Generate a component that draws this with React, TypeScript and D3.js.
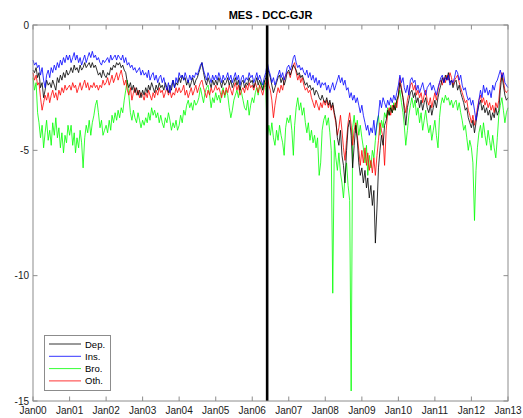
import React from "react";
import * as d3 from "d3";

// semi-monthly estimates, Jan 2000 .. Jan 2013 (313 points each)
const dep = [
-1.8,-1.9,-1.7,-2.1,-1.9,-2.5,-2.3,-2.9,-2.6,-2.2,-2.4,-2.3,-2.5,-2.2,-2.4,-2.6,-2.1,-2.3,-2.0,-2.2,-1.9,-2.1,-1.8,-2.0,
-1.9,-1.7,-1.9,-1.6,-1.8,-1.7,-1.9,-1.6,-1.8,-1.7,-1.5,-1.7,-1.6,-1.5,-1.7,-1.5,-1.7,-1.6,-1.8,-2.0,-1.9,-2.1,-1.8,-2.0,
-2.1,-1.9,-2.0,-1.7,-1.8,-1.6,-1.7,-1.5,-1.6,-1.5,-1.7,-1.6,-1.8,-1.9,-2.3,-2.5,-2.3,-2.6,-2.4,-2.7,-2.5,-2.8,-2.6,-2.9,
-2.6,-2.8,-2.5,-2.7,-2.4,-2.6,-2.3,-2.5,-2.7,-2.4,-2.6,-2.3,-2.5,-2.4,-2.6,-2.3,-2.5,-2.7,-2.4,-2.6,-2.2,-2.5,-2.3,-2.4,
-2.1,-2.3,-2.0,-2.2,-2.1,-2.4,-2.2,-2.5,-2.3,-2.1,-2.4,-2.2,-2.1,-1.9,-1.7,-1.5,-1.9,-2.2,-2.4,-2.1,-2.3,-2.5,-2.2,-2.4,
-2.2,-2.4,-2.1,-2.3,-2.5,-2.2,-2.4,-2.3,-2.1,-2.4,-2.2,-2.5,-2.3,-2.1,-2.4,-2.2,-2.6,-2.3,-2.2,-2.5,-2.3,-2.4,-2.1,-2.3,
-2.2,-2.5,-2.3,-2.1,-2.4,-2.2,-2.4,-2.6,-2.3,-2.1,-1.7,-1.9,-2.1,-2.4,-2.7,-2.5,-2.3,-2.1,-2.0,-2.3,-2.1,-2.4,-2.2,-1.9,
-1.8,-2.0,-1.8,-1.6,-1.7,-1.8,-2.0,-1.9,-2.1,-2.0,-2.2,-2.4,-2.3,-2.5,-2.4,-2.6,-2.5,-2.8,-2.6,-2.7,-2.9,-3.0,-2.8,-3.0,
-3.1,-2.9,-3.2,-3.0,-3.3,-3.1,-3.5,-3.8,-4.5,-4.8,-4.2,-5.2,-5.6,-6.3,-5.0,-4.1,-3.8,-4.4,-5.7,-4.8,-4.0,-4.6,-5.5,-6.0,
-5.7,-6.3,-5.8,-6.5,-6.1,-6.9,-6.4,-7.2,-6.6,-8.7,-7.3,-5.7,-5.0,-4.4,-4.8,-4.0,-3.8,-3.4,-3.6,-3.3,-3.5,-3.2,-3.4,-3.0,
-2.8,-2.3,-2.6,-2.9,-3.4,-4.0,-3.3,-3.0,-2.7,-2.6,-2.9,-2.7,-3.1,-2.9,-3.3,-3.0,-3.4,-3.1,-2.9,-3.3,-3.5,-3.2,-3.6,-3.3,
-3.0,-3.3,-2.9,-2.6,-2.4,-2.1,-2.3,-2.0,-2.2,-1.9,-2.3,-2.2,-2.5,-2.3,-2.2,-2.6,-2.4,-2.7,-2.9,-3.1,-3.4,-3.3,-3.7,-3.9,
-4.1,-3.8,-4.3,-3.9,-3.5,-3.2,-3.0,-3.4,-3.2,-3.5,-3.3,-3.6,-3.4,-3.8,-3.5,-3.7,-3.3,-3.6,-3.4,-2.6,-2.0,-2.4,-2.8,-3.0,
-2.9];

const ins = [
-1.4,-1.6,-1.5,-1.7,-1.6,-2.0,-1.7,-2.2,-2.5,-2.0,-1.8,-2.1,-1.7,-1.9,-1.6,-1.8,-1.5,-1.7,-1.4,-1.6,-1.3,-1.5,-1.2,-1.4,
-1.2,-1.5,-1.3,-1.1,-1.4,-1.2,-1.5,-1.3,-1.6,-1.4,-1.2,-1.5,-1.3,-1.1,-1.3,-1.05,-1.3,-1.2,-1.4,-1.3,-1.5,-1.6,-1.4,-1.5,
-1.4,-1.3,-1.5,-1.2,-1.4,-1.3,-1.2,-1.4,-1.2,-1.3,-1.4,-1.2,-1.5,-1.3,-1.6,-1.5,-1.7,-1.6,-1.8,-1.7,-1.9,-1.8,-1.7,-2.0,
-1.8,-2.0,-1.9,-2.1,-1.8,-2.2,-2.0,-1.9,-2.2,-2.0,-2.3,-2.1,-2.0,-2.3,-2.1,-2.4,-2.6,-2.3,-2.7,-2.4,-2.2,-2.5,-2.1,-2.3,
-1.9,-2.1,-2.0,-2.2,-1.9,-2.1,-2.3,-2.0,-2.2,-2.0,-2.1,-1.9,-2.0,-1.8,-1.6,-1.5,-1.8,-2.0,-2.2,-1.9,-2.1,-2.3,-2.0,-2.2,
-2.0,-2.2,-1.9,-2.1,-2.3,-2.0,-2.2,-2.1,-1.9,-2.2,-2.0,-2.3,-2.1,-1.9,-2.2,-2.0,-2.4,-2.1,-2.0,-2.3,-2.1,-2.2,-1.9,-2.1,
-2.0,-2.3,-2.1,-1.9,-2.2,-2.0,-2.2,-2.4,-2.1,-1.9,-1.5,-1.8,-2.0,-2.3,-2.1,-2.4,-2.2,-2.0,-1.8,-2.1,-1.9,-2.2,-2.0,-1.7,
-1.6,-1.8,-1.6,-1.3,-1.2,-1.5,-1.7,-1.6,-1.8,-1.7,-1.9,-2.0,-1.8,-2.1,-1.9,-2.2,-2.0,-2.3,-2.1,-2.4,-2.2,-2.5,-2.3,-2.4,
-2.3,-2.6,-2.4,-2.7,-2.5,-2.3,-2.6,-2.4,-2.2,-2.0,-2.3,-2.1,-2.4,-2.2,-2.6,-2.5,-2.9,-2.7,-3.0,-2.8,-3.1,-2.9,-3.2,-3.5,
-3.2,-3.6,-3.9,-4.2,-4.0,-4.4,-4.1,-4.3,-3.8,-4.4,-3.9,-3.6,-3.0,-3.3,-2.9,-3.1,-3.3,-3.0,-3.2,-2.9,-3.1,-2.8,-3.0,-2.7,
-2.4,-2.0,-2.3,-2.1,-2.5,-2.7,-2.4,-2.8,-2.2,-2.1,-2.3,-2.2,-2.6,-2.4,-2.7,-2.5,-2.3,-2.6,-2.8,-2.5,-2.4,-2.3,-2.6,-2.4,
-2.6,-2.8,-2.5,-2.3,-2.1,-2.0,-2.3,-2.1,-2.2,-2.0,-2.4,-2.2,-2.3,-2.1,-1.8,-1.9,-2.2,-2.0,-2.4,-2.6,-2.5,-2.8,-3.0,-2.9,
-3.2,-3.0,-3.4,-3.8,-3.5,-3.0,-2.6,-2.9,-2.4,-2.7,-2.5,-2.8,-2.6,-2.9,-2.4,-2.6,-2.3,-2.2,-2.0,-1.8,-2.1,-1.9,-2.3,-2.4,
-2.5];

const bro = [
-2.1,-2.6,-2.3,-3.5,-3.9,-4.5,-4.0,-4.9,-4.3,-3.8,-4.6,-4.2,-4.8,-3.9,-4.4,-3.7,-4.5,-4.1,-4.9,-4.3,-5.1,-4.4,-4.7,-4.0,
-4.4,-4.0,-4.8,-4.3,-5.1,-4.5,-4.9,-4.2,-4.7,-5.7,-4.5,-4.0,-4.3,-3.8,-4.4,-3.9,-3.6,-3.2,-3.0,-3.5,-4.1,-3.8,-4.4,-4.2,
-4.0,-4.3,-3.8,-4.2,-3.6,-3.9,-3.5,-3.8,-3.4,-3.7,-3.3,-3.5,-3.0,-2.6,-2.2,-2.8,-3.5,-3.8,-3.4,-3.7,-3.9,-3.5,-3.8,-4.1,
-3.8,-4.0,-3.7,-3.9,-3.5,-3.8,-3.3,-3.6,-3.4,-3.7,-3.5,-3.9,-3.6,-3.9,-4.1,-3.7,-3.9,-3.5,-3.8,-4.2,-3.9,-4.1,-3.8,-4.2,
-4.0,-3.6,-3.9,-3.4,-3.6,-3.2,-3.0,-3.3,-3.1,-3.4,-3.0,-3.2,-3.1,-2.9,-2.5,-2.8,-3.1,-2.7,-2.5,-2.4,-2.8,-3.3,-2.9,-3.1,
-2.7,-3.0,-2.8,-3.1,-2.7,-2.5,-2.9,-2.6,-2.8,-3.3,-3.7,-3.4,-3.0,-2.8,-2.6,-2.9,-2.5,-2.7,-3.0,-3.3,-3.4,-3.0,-3.6,-3.2,
-2.9,-3.1,-2.7,-2.5,-2.8,-2.4,-2.3,-2.6,-2.2,-2.5,-4.5,-4.0,-4.4,-3.9,-4.5,-4.8,-4.2,-4.6,-4.0,-4.4,-4.7,-5.2,-4.1,-3.7,
-3.9,-3.6,-4.2,-5.2,-4.0,-3.3,-2.9,-3.4,-3.1,-3.6,-3.3,-3.9,-4.3,-3.9,-4.6,-4.2,-4.7,-4.4,-4.9,-4.5,-6.0,-5.5,-4.2,-3.8,
-3.6,-4.0,-3.7,-4.3,-5.0,-10.7,-4.6,-5.3,-5.8,-5.1,-5.9,-6.3,-6.9,-6.1,-5.5,-6.4,-7.0,-14.6,-4.1,-3.6,-4.3,-3.8,-4.4,-4.0,
-4.5,-4.9,-5.5,-4.8,-6.0,-5.2,-5.7,-5.0,-5.3,-4.6,-4.0,-3.6,-4.4,-3.8,-4.1,-3.5,-3.7,-3.3,-3.6,-3.2,-3.5,-3.1,-3.4,-3.0,
-2.9,-2.6,-3.1,-3.5,-4.0,-4.8,-4.2,-3.6,-3.2,-2.9,-3.3,-3.0,-3.6,-3.3,-3.9,-3.5,-4.2,-3.8,-3.4,-3.9,-4.3,-4.0,-4.6,-4.2,
-3.8,-4.4,-4.9,-3.7,-3.2,-2.9,-3.1,-2.8,-3.0,-2.9,-3.2,-3.0,-3.3,-3.1,-3.0,-3.4,-3.1,-3.5,-3.8,-4.2,-4.0,-4.5,-5.0,-4.6,
-4.9,-5.5,-7.8,-5.8,-4.9,-4.3,-4.0,-4.5,-3.9,-4.4,-4.8,-4.2,-4.6,-5.0,-4.4,-4.9,-5.3,-4.5,-3.6,-3.2,-2.9,-3.4,-3.9,-3.5,
-3.3];

const oth = [
-1.9,-2.2,-2.0,-2.4,-2.3,-2.9,-3.4,-3.1,-2.8,-3.0,-2.7,-3.1,-2.8,-2.6,-2.9,-2.7,-3.0,-2.6,-2.8,-2.5,-2.7,-2.4,-2.6,-2.5,
-2.4,-2.6,-2.3,-2.5,-2.4,-2.7,-2.5,-2.3,-2.6,-2.4,-2.2,-2.5,-2.3,-2.6,-2.4,-2.5,-2.3,-2.5,-2.4,-2.6,-2.4,-2.5,-2.2,-2.4,
-2.3,-2.1,-2.4,-2.2,-2.0,-2.3,-2.1,-1.9,-2.2,-2.0,-1.8,-2.1,-2.4,-2.2,-2.6,-2.8,-2.5,-3.0,-2.7,-2.5,-2.8,-2.6,-2.9,-2.7,
-2.8,-3.0,-2.7,-2.9,-2.6,-2.8,-3.0,-2.7,-2.9,-2.6,-2.8,-2.5,-2.7,-2.6,-2.9,-2.7,-2.5,-2.8,-2.6,-2.9,-2.7,-2.8,-2.5,-2.7,
-2.5,-2.7,-2.6,-2.4,-2.8,-2.6,-2.9,-2.7,-2.5,-2.8,-2.6,-2.4,-2.7,-2.5,-2.3,-2.2,-2.5,-2.7,-2.9,-2.6,-2.8,-2.5,-2.7,-2.6,
-2.4,-2.6,-2.5,-2.7,-2.9,-2.6,-2.8,-2.5,-2.7,-2.4,-2.6,-2.8,-2.5,-2.3,-2.6,-2.4,-2.8,-2.6,-2.5,-2.7,-2.4,-2.6,-2.3,-2.5,
-2.4,-2.6,-2.3,-2.5,-2.7,-2.4,-2.6,-2.8,-2.5,-2.3,-2.0,-2.4,-2.6,-3.0,-3.7,-3.2,-2.8,-2.5,-2.7,-2.4,-2.6,-2.2,-2.0,-1.9,
-1.9,-2.1,-1.8,-1.6,-1.5,-1.9,-2.2,-2.0,-2.3,-2.1,-2.4,-2.6,-2.5,-2.7,-2.6,-2.9,-3.1,-3.3,-3.0,-3.2,-3.4,-3.1,-3.3,-3.0,
-3.2,-3.0,-3.3,-3.1,-3.4,-3.2,-3.6,-3.9,-4.4,-4.1,-3.6,-4.2,-4.9,-5.4,-4.6,-3.9,-3.5,-4.0,-4.8,-4.2,-3.9,-4.4,-5.0,-5.6,
-5.0,-5.5,-4.9,-5.6,-5.1,-5.8,-5.4,-5.9,-5.3,-6.0,-5.2,-4.6,-3.9,-4.2,-4.5,-5.6,-4.2,-3.5,-3.3,-3.6,-3.2,-3.4,-3.1,-3.3,
-2.8,-2.1,-2.5,-2.9,-3.2,-3.5,-3.0,-2.7,-2.4,-2.3,-2.6,-2.4,-2.8,-2.6,-2.9,-2.7,-3.1,-2.8,-2.6,-3.0,-3.2,-2.9,-3.3,-3.0,
-2.7,-3.0,-2.6,-2.3,-2.2,-2.4,-2.1,-2.3,-2.0,-2.2,-1.9,-2.1,-2.4,-2.2,-2.1,-2.0,-2.3,-2.5,-2.7,-2.9,-3.1,-3.0,-3.4,-3.6,
-3.9,-3.6,-4.0,-3.7,-3.3,-3.0,-2.8,-3.1,-2.9,-3.2,-3.0,-3.3,-3.1,-3.4,-3.2,-3.5,-3.1,-3.3,-3.0,-2.3,-1.9,-2.2,-2.6,-2.7,
-2.6];

const seriesNames = ["Dep.", "Ins.", "Bro.", "Oth."];
const seriesColors = ["#000000", "#0000ff", "#00ff00", "#ff0000"];
const yTicks = [0, -5, -10, -15];
const breakDate = new Date(2006, 4, 30);
const title = "MES - DCC-GJR";

const W = 523, H = 418;
const M = { left: 33, right: 508, top: 25, bottom: 401 };

function dateAt(i: number) {
  const y = 2000 + Math.floor(i / 24);
  const r = i % 24;
  return new Date(y, Math.floor(r / 2), r % 2 ? 16 : 1);
}

export default function App() {
  const x = d3.scaleTime().domain([new Date(2000, 0, 1), new Date(2013, 0, 1)]).range([M.left, M.right]);
  const y = d3.scaleLinear().domain([-15, 0]).range([M.bottom, M.top]);
  const xTicks = d3.range(2000, 2014).map((yr) => new Date(yr, 0, 1));
  const fmt = d3.timeFormat("%b%y");
  const line = d3.line<number>().x((_, i) => x(dateAt(i))).y((v) => y(v));
  // draw order: green (Bro.), red, black, blue on top similar to reference
  const drawOrder = [2, 3, 0, 1];
  const data = [dep, ins, bro, oth];
  const font = "'Liberation Sans', Arial, Helvetica, sans-serif";
  const axisColor = "#8c8c8c";
  const tl = 4.5;
  return (
    <svg width={W} height={H} style={{ position: "absolute", left: 0, top: 0, background: "#fff" }} fontFamily={font}>
      <rect x={0} y={0} width={W} height={H} fill="#fff" />
      <rect x={M.left} y={M.top} width={M.right - M.left} height={M.bottom - M.top} fill="#fff" />
      <g>
        {drawOrder.map((k) => (
          <path key={k} d={line(data[k]) || ""} fill="none" stroke={seriesColors[k]} strokeWidth={0.8} strokeLinejoin="round" />
        ))}
      </g>
      <line x1={x(breakDate)} x2={x(breakDate)} y1={M.top} y2={M.bottom} stroke="#000" strokeWidth={2.6} />
      {/* axes box */}
      <rect x={M.left} y={M.top} width={M.right - M.left} height={M.bottom - M.top} fill="none" stroke={axisColor} strokeWidth={1} />
      {xTicks.map((d, i) => (
        <g key={i}>
          <line x1={x(d)} x2={x(d)} y1={M.bottom} y2={M.bottom - tl} stroke={axisColor} />
          <line x1={x(d)} x2={x(d)} y1={M.top} y2={M.top + tl} stroke={axisColor} />
          <text x={x(d)} y={M.bottom + 13} textAnchor="middle" fontSize={10} fill="#1a1a1a">{fmt(d)}</text>
        </g>
      ))}
      {yTicks.map((v) => (
        <g key={v}>
          <line x1={M.left} x2={M.left + tl} y1={y(v)} y2={y(v)} stroke={axisColor} />
          <line x1={M.right} x2={M.right - tl} y1={y(v)} y2={y(v)} stroke={axisColor} />
          <text x={M.left - 4} y={y(v) + 3.5} textAnchor="end" fontSize={10} fill="#1a1a1a">{v}</text>
        </g>
      ))}
      <text x={(M.left + M.right) / 2} y={19} textAnchor="middle" fontSize={11} fontWeight="bold" fill="#000">{title}</text>
      {/* legend */}
      <g>
        <rect x={44.5} y={335.5} width={66} height={55} fill="#fff" stroke={axisColor} />
        {seriesNames.map((n, i) => (
          <g key={n}>
            <line x1={49} x2={81} y1={344 + i * 12.3} y2={344 + i * 12.3} stroke={seriesColors[i]} strokeWidth={0.8} />
            <text x={85} y={344 + i * 12.3 + 3.5} fontSize={9.5} fill="#000">{n}</text>
          </g>
        ))}
      </g>
    </svg>
  );
}
